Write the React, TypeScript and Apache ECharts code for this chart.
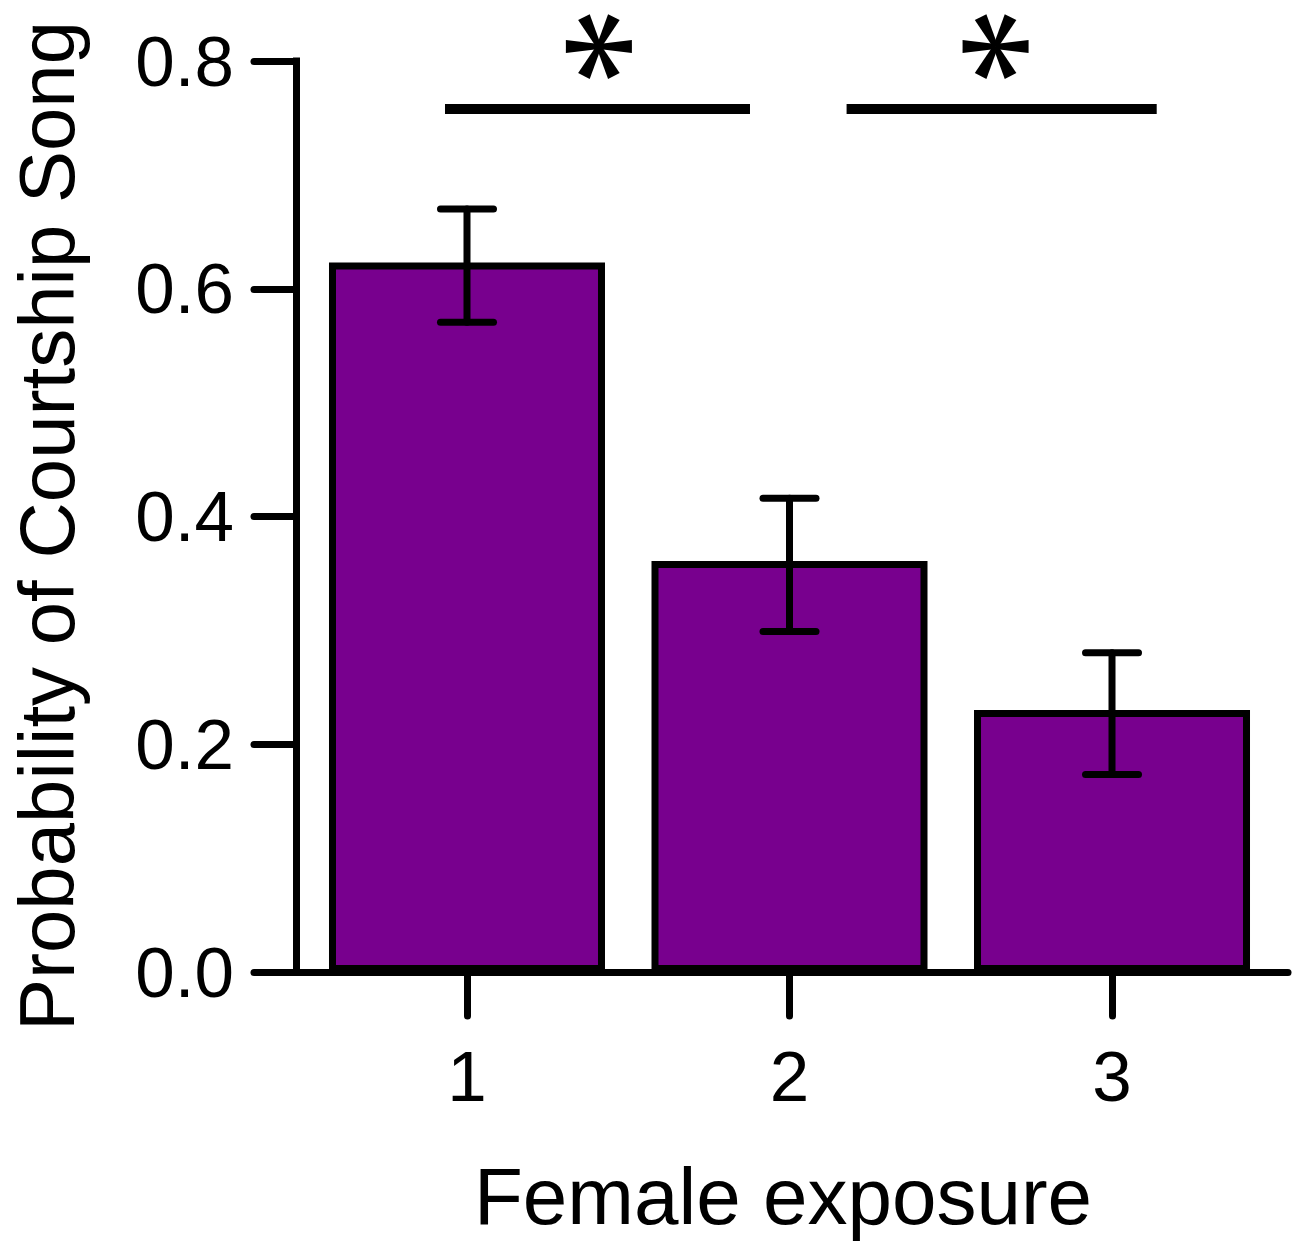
import React, { useEffect, useRef } from "react";
import * as echarts from "echarts";

const categories = [1, 2, 3];
const means = [0.623, 0.361, 0.23];
const errLow = [0.5705, 0.299, 0.1735];
const errHigh = [0.67, 0.416, 0.2804];
const xTickValues = [1, 2, 3];
const sigBars = [
  [0.9318, 1.8775, 0.7578],
  [2.177, 3.1386, 0.7578],
];
const sigStars = [
  [1.409, 0.8127],
  [2.639, 0.8127],
];
const xTitle = "Female exposure";
const yTitle = "Probability of Courtship Song";

const FONT = '"Liberation Sans", Arial, sans-serif';

export default function App() {
  const ref = useRef<HTMLDivElement>(null);
  useEffect(() => {
    if (!ref.current) return;
    const chart = echarts.init(ref.current, undefined, { renderer: "svg" });
    const option: any = {
      animation: false,
      backgroundColor: "#ffffff",
      grid: { left: 296, right: 12, top: 61, bottom: 281, containLabel: false },
      xAxis: {
        type: "value",
        min: 0.4698,
        max: 3.5457,
        axisLine: { show: true, onZero: false, lineStyle: { color: "#000", width: 7, cap: "round" } },
        axisTick: { show: true, customValues: xTickValues, length: 44, lineStyle: { color: "#000", width: 7, cap: "round" } },
        axisLabel: {
          show: true,
          customValues: xTickValues,
          margin: 104,
          verticalAlign: "middle",
          color: "#000",
          fontSize: 71,
          fontFamily: FONT,
          formatter: (v: number) => String(v),
        },
        splitLine: { show: false },
      },
      yAxis: {
        type: "value",
        min: 0,
        max: 0.8,
        interval: 0.2,
        axisLine: { show: true, lineStyle: { color: "#000", width: 7, cap: "square" } },
        axisTick: { show: true, length: 42, lineStyle: { color: "#000", width: 7, cap: "round" } },
        axisLabel: {
          margin: 62,
          color: "#000",
          fontSize: 71,
          fontFamily: FONT,
          formatter: (v: number) => v.toFixed(1),
        },
        splitLine: { show: false },
      },
      graphic: [
        {
          type: "text",
          x: 783,
          y: 1196,
          style: { text: xTitle, fontSize: 80, fontFamily: FONT, fill: "#000", align: "center", verticalAlign: "middle" },
        },
        {
          type: "text",
          x: 47,
          y: 526,
          rotation: Math.PI / 2,
          style: { text: yTitle, fontSize: 78, fontFamily: FONT, fill: "#000", align: "center", verticalAlign: "middle" },
        },
      ],
      series: [
        {
          type: "bar",
          data: categories.map((c, i) => [c, means[i]]),
          barWidth: 276,
          itemStyle: { color: "#78008e", borderColor: "#000", borderWidth: 7 },
          z: 2,
        },
        {
          type: "custom",
          z: 5,
          encode: { x: 0, y: [1, 2] },
          data: categories.map((c, i) => [c, errLow[i], errHigh[i]]),
          renderItem: (params: any, api: any) => {
            const x = api.value(0);
            const pLo = api.coord([x, api.value(1)]);
            const pHi = api.coord([x, api.value(2)]);
            const hw = 26.5;
            const style = { stroke: "#000", lineWidth: 7, lineCap: "round", fill: null };
            return {
              type: "group",
              children: [
                { type: "line", shape: { x1: pLo[0], y1: pLo[1], x2: pHi[0], y2: pHi[1] }, style },
                { type: "line", shape: { x1: pHi[0] - hw, y1: pHi[1], x2: pHi[0] + hw, y2: pHi[1] }, style },
                { type: "line", shape: { x1: pLo[0] - hw, y1: pLo[1], x2: pLo[0] + hw, y2: pLo[1] }, style },
              ],
            };
          },
        },
        {
          type: "custom",
          z: 5,
          clip: false,
          encode: { x: [0, 1], y: 2 },
          data: sigBars,
          renderItem: (params: any, api: any) => {
            const p1 = api.coord([api.value(0), api.value(2)]);
            const p2 = api.coord([api.value(1), api.value(2)]);
            return {
              type: "line",
              shape: { x1: p1[0], y1: p1[1], x2: p2[0], y2: p2[1] },
              style: { stroke: "#000", lineWidth: 10, lineCap: "butt", fill: null },
            };
          },
        },
        {
          type: "custom",
          z: 5,
          clip: false,
          encode: { x: 0, y: 1 },
          data: sigStars,
          renderItem: (params: any, api: any) => {
            const c = api.coord([api.value(0), api.value(1)]);
            const angles = [0, 180, 63, 117, -63, -117];
            const L = 33;
            const w0 = 5;
            const w1 = 13;
            const children = angles.map((deg) => {
              const a = (deg * Math.PI) / 180;
              const dx = Math.cos(a);
              const dy = -Math.sin(a);
              const px = -dy;
              const py = dx;
              return {
                type: "polygon",
                shape: {
                  points: [
                    [c[0] + (px * w0) / 2, c[1] + (py * w0) / 2],
                    [c[0] + dx * L + (px * w1) / 2, c[1] + dy * L + (py * w1) / 2],
                    [c[0] + dx * L - (px * w1) / 2, c[1] + dy * L - (py * w1) / 2],
                    [c[0] - (px * w0) / 2, c[1] - (py * w0) / 2],
                  ],
                },
                style: { fill: "#000", stroke: null },
              };
            });
            return { type: "group", children };
          },
        },
      ],
    };
    chart.setOption(option);
    return () => chart.dispose();
  }, []);
  return (
    <div
      ref={ref}
      style={{ position: "absolute", left: 0, top: 0, width: 1300, height: 1253 }}
    />
  );
}
